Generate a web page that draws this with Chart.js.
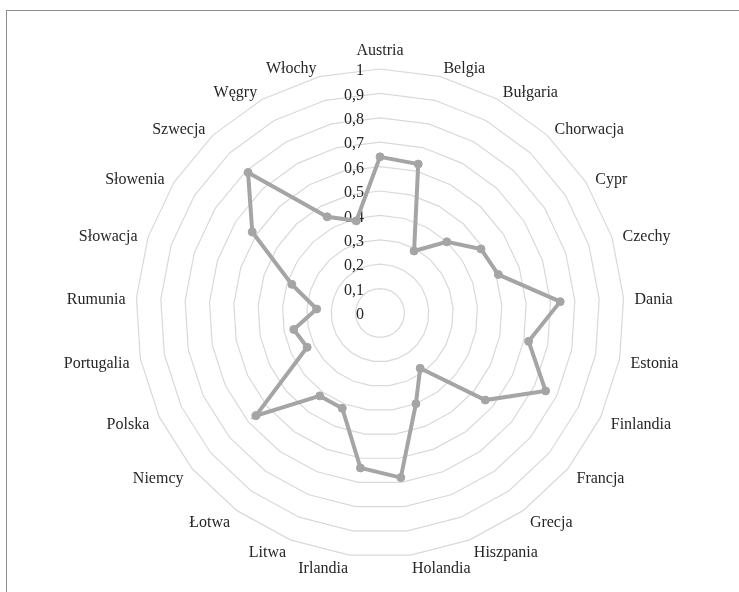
<!DOCTYPE html>
<html>
<head>
<meta charset="utf-8">
<script src="https://cdn.jsdelivr.net/npm/chart.js@4.4.1/dist/chart.umd.min.js"></script>
<style>
  html, body { margin: 0; padding: 0; background: #fff; }
  #wrap { position: relative; width: 739px; height: 592px; overflow: hidden; }
  #frame { position: absolute; left: 6px; top: 10px; width: 800px; height: 700px;
           border-left: 1px solid #8c8c8c; border-top: 1px solid #8c8c8c; }
  #chart { position: absolute; left: 0; top: 0; }
</style>
</head>
<body>
<div id="wrap">
  <div id="frame"></div>
  <canvas id="chart" width="739" height="592"></canvas>
</div>
<script>
// countries (clockwise from the top)
const countries = ['Austria', 'Belgia', 'Bułgaria', 'Chorwacja', 'Cypr', 'Czechy', 'Dania',
  'Estonia', 'Finlandia', 'Francja', 'Grecja', 'Hiszpania', 'Holandia', 'Irlandia', 'Litwa',
  'Łotwa', 'Niemcy', 'Polska', 'Portugalia', 'Rumunia', 'Słowacja', 'Słowenia', 'Szwecja',
  'Węgry', 'Włochy'];

// values
const values = [0.64, 0.63, 0.29, 0.40, 0.49, 0.51, 0.74,
  0.62, 0.75, 0.56, 0.28, 0.40, 0.68, 0.64, 0.42,
  0.42, 0.66, 0.33, 0.36, 0.26, 0.38, 0.62, 0.79,
  0.45, 0.39];

// axis tick labels (comma decimals)
const tickLabels = ['0', '0,1', '0,2', '0,3', '0,4', '0,5', '0,6', '0,7', '0,8', '0,9', '1'];

const textColor = '#262626';
const fontFamily = '"Liberation Serif", "Times New Roman", serif';

// value labels sit left of the centre line, country labels are centred on their spoke
const labelPlugin = {
  id: 'excelLabels',
  beforeDatasetsDraw(chart) {
    const scale = chart.scales.r;
    const ctx = chart.ctx;
    ctx.save();
    ctx.font = '16px ' + fontFamily;
    ctx.fillStyle = textColor;
    ctx.textAlign = 'right';
    ctx.textBaseline = 'middle';
    scale.ticks.forEach((t, i) => {
      const d = scale.getDistanceFromCenterForValue(t.value);
      ctx.fillText(tickLabels[i], scale.xCenter - 16, scale.yCenter - d + 2);
    });

    const n = countries.length;
    countries.forEach((name, i) => {
      const deg = 360 * i / n;
      const p = scale.getPointPosition(i, scale.drawingArea + 11);
      let y = p.y + 3;
      if (deg === 0) {
        ctx.textAlign = 'center';
        y -= 10;
      } else if (deg < 180) {
        ctx.textAlign = 'left';
      } else {
        ctx.textAlign = 'right';
      }
      ctx.fillText(name, p.x, y);
    });
    ctx.restore();
  }
};

new Chart(document.getElementById('chart'), {
  type: 'radar',
  data: {
    labels: countries,
    datasets: [{
      data: values,
      borderColor: '#a5a5a5',
      backgroundColor: '#a5a5a5',
      borderWidth: 4,
      fill: false,
      pointRadius: 4,
      pointBackgroundColor: '#a5a5a5',
      pointBorderColor: '#a5a5a5',
      pointBorderWidth: 1
    }]
  },
  options: {
    responsive: false,
    animation: false,
    layout: { padding: { left: 136, right: 115, top: 69, bottom: 35 } },
    plugins: { legend: { display: false }, tooltip: { enabled: false } },
    scales: {
      r: {
        min: 0,
        max: 1,
        ticks: { stepSize: 0.1, display: false },
        grid: { circular: false, color: '#d9d9d9', lineWidth: 1.2 },
        angleLines: { display: false },
        pointLabels: { display: false }
      }
    }
  },
  plugins: [labelPlugin]
});
</script>
</body>
</html>
